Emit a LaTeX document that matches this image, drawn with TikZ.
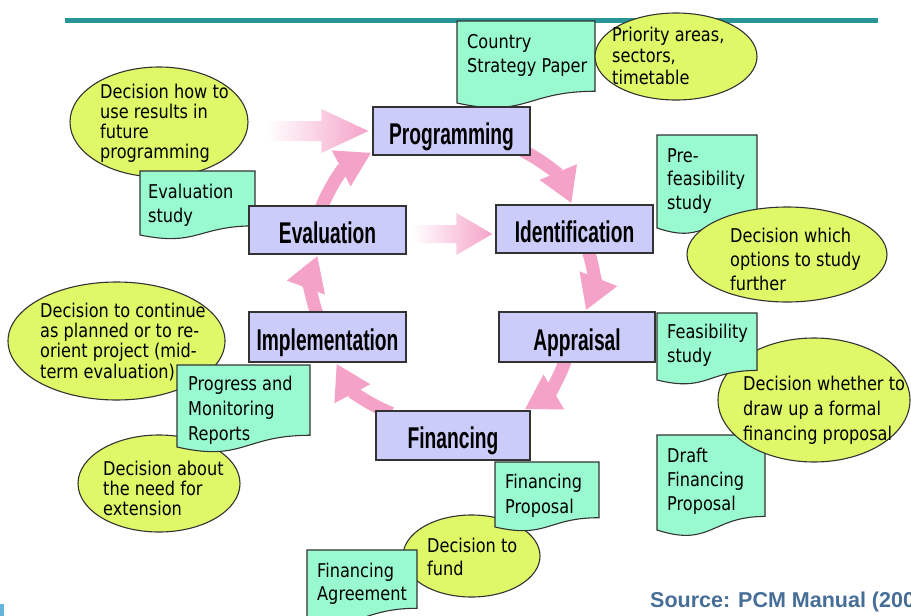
\documentclass[tikz,border=0pt]{standalone}
\usepackage{fontspec}
\usetikzlibrary{arrows.meta,shapes.geometric,calc,backgrounds}

\newfontfamily\smallfont{DejaVu Sans}[FakeStretch=0.85]
\newfontfamily\labelfont{Liberation Sans}[FakeStretch=0.64]
\newfontfamily\srcfont{Liberation Sans}

\definecolor{stagefill}{RGB}{204,204,250}
\definecolor{docfill}{RGB}{153,250,208}
\definecolor{ellfill}{RGB}{222,248,104}
\definecolor{cycpink}{RGB}{245,162,200}
\definecolor{rulecol}{RGB}{40,150,150}
\definecolor{srcblue}{RGB}{70,110,150}
\definecolor{cornerblue}{RGB}{100,180,220}

% multi-line left-aligned text whose baseline is the first line
\newcommand\ml[1]{\begin{tabular}[t]{@{}l@{}}#1\end{tabular}}

% document shape: top-left (x1,y1), right edge x2, lower-left corner at yL
\newcommand\docshape[4]{%
  \filldraw[docshp] (#1,#2) -- (#3,#2) -- (#3,{#2+0.857*(#4-#2)})
    .. controls ({0.5*(#1+#3)},{#2+0.857*(#4-#2)}) and ({0.5*(#1+#3)},{#2+1.185*(#4-#2)}) .. (#1,#4) -- cycle;}

\tikzset{
  stage/.style={rectangle, draw=black!80, line width=1.3pt, fill=stagefill,
    inner sep=0pt, minimum width=157pt, minimum height=48pt,
    text height=28pt, text depth=2pt,
    font=\labelfont\bfseries\fontsize{30}{32}\selectfont},
  docshp/.style={draw=black!80, line width=1.1pt, fill=docfill},
  ell/.style={ellipse, draw=black!80, line width=1.1pt, fill=ellfill, inner sep=0pt},
  txt/.style={anchor=base west, inner sep=0pt, font=\smallfont\fontsize{19}{#1}\selectfont},
  txt/.default=24,
  cycarrow/.style={draw=cycpink, line width=13pt, -{Triangle[width=38pt,length=34pt]}},
}

\begin{document}
\begin{tikzpicture}[x=1pt,y=-1pt]
\useasboundingbox (0,0) rectangle (911,616);
\begin{scope}
\clip (0,0) rectangle (911,616);

% header rule and corner mark
\draw[rulecol, line width=4.5pt] (65,20.5) -- (878,20.5);
\fill[cornerblue] (0,604) rectangle (4,616);

% programming
\docshape{457}{21}{595}{103}
\node[txt] (csp) at (467,48) {\ml{Country\\Strategy Paper}};
\node[ell, minimum width=162pt, minimum height=87pt] (pri) at (676,56.5) {};
\node[txt=21.5] (prit) at (612,41) {\ml{Priority areas,\\sectors,\\timetable}};

% evaluation
\node[ell, minimum width=178pt, minimum height=110pt] (dhow) at (159,122) {};
\node[txt=19.5] (dhowt) at (100,98) {\ml{Decision how to\\use results in\\future\\programming}};
\docshape{140}{171}{255}{235}
\node[txt=24.5] (evs) at (148,198) {\ml{Evaluation\\study}};

% identification
\docshape{657}{135}{757}{228}
\node[txt=23.5] (pfs) at (667,162) {\ml{Pre-\\feasibility\\study}};
\node[ell, minimum width=200pt, minimum height=95pt] (dwhich) at (787,254.5) {};
\node[txt] (dwhicht) at (730,242) {\ml{Decision which\\options to study\\further}};

% implementation
\node[ell, minimum width=217pt, minimum height=118pt] (dcont) at (116.5,341) {};
\node[txt=20] (dcontt) at (40,317) {\ml{Decision to continue\\as planned or to re-\\orient project (mid-\\term evaluation)}};
\node[ell, minimum width=162pt, minimum height=97pt] (dabout) at (159,483.5) {};
\node[txt=20] (dabt) at (103,475) {\ml{Decision about\\the need for\\extension}};
\docshape{177}{365}{310}{447}
\node[txt=25] (pmr) at (188,390) {\ml{Progress and\\Monitoring\\Reports}};

% appraisal
\docshape{657}{435}{765}{530}
\node[txt] (dfp) at (667,462) {\ml{Draft\\Financing\\Proposal}};
\node[ell, minimum width=192pt, minimum height=124pt] (dwhe) at (814,400) {};
\docshape{657}{313}{757}{380}
\node[txt] (fs) at (667,338) {\ml{Feasibility\\study}};
\node[txt=25] (dwhet) at (743,390) {\ml{Decision whether to\\draw up a formal\\financing proposal}};

% financing
\node[ell, minimum width=137pt, minimum height=82pt] (dfund) at (471.5,556) {};
\node[txt=23] (dfundt) at (427,552) {\ml{Decision to\\fund}};
\docshape{495}{462}{599}{527}
\node[txt=25] (fp) at (505,488) {\ml{Financing\\Proposal}};
\docshape{307}{550}{417}{618}
\node[txt=23] (fa) at (317,577) {\ml{Financing\\Agreement}};

% project cycle stages
\node[stage] (prog) at (451.5,131) {Programming};
\node[stage] (ident) at (574.5,229) {Identification};
\node[stage] (eval) at (327.5,230) {Evaluation};
\node[stage, minimum height=50pt] (impl) at (327.5,337) {Implementation};
\node[stage, minimum width=156pt, minimum height=50pt] (appr) at (577,337) {Appraisal};
\node[stage, minimum width=154pt, minimum height=49pt] (fin) at (453,435.5) {Financing};

\node[anchor=base west, inner sep=0pt, text=srcblue,
  font=\srcfont\bfseries\fontsize{21.5}{24}\selectfont] (src) at (650,607) {Source: PCM Manual (2003)};
\end{scope}

\begin{pgfonlayer}{background}
% cycle arrows
\draw[cycarrow] ([xshift=-8pt,yshift=5pt]prog.south east) to[bend left=20] ([xshift=-3pt,yshift=1pt]ident.north);
\draw[cycarrow] ([xshift=13pt,yshift=5pt]ident.south) to[bend left=20] ([xshift=9pt,yshift=1pt]appr.north);
\draw[cycarrow] ([xshift=-11pt,yshift=4pt]appr.south) to[bend left=20] ([xshift=-6pt,yshift=1pt]fin.north east);
\draw[cycarrow] ([xshift=16pt,yshift=-3pt]fin.north west) to[bend left=20] ([xshift=9pt,yshift=-1pt]impl.south);
\draw[cycarrow] ([xshift=-10pt,yshift=-4pt]impl.north) to[bend left=20] ([xshift=-10pt,yshift=-1pt]eval.south);
\draw[cycarrow] ([xshift=-6pt,yshift=-2pt]eval.north) to[bend left=20] ([xshift=-1pt,yshift=3pt]prog.south west);

% feedback arrows fading in from the left
\coordinate (ta) at ($(prog.west)+(-4,0)$);
\shade[left color=white, middle color=cycpink!75, right color=cycpink]
  ($(ta)+(-101,-10)$) -- ($(ta)+(-47,-10)$) -- ($(ta)+(-47,-22)$) -- (ta)
  -- ($(ta)+(-47,22)$) -- ($(ta)+(-47,10)$) -- ($(ta)+(-101,10)$) -- cycle;
\coordinate (tb) at ($(ident.west)+(-3,5)$);
\shade[left color=white, middle color=cycpink!75, right color=cycpink]
  ($(tb)+(-80,-9)$) -- ($(tb)+(-36,-9)$) -- ($(tb)+(-36,-21)$) -- (tb)
  -- ($(tb)+(-36,21)$) -- ($(tb)+(-36,9)$) -- ($(tb)+(-80,9)$) -- cycle;
\end{pgfonlayer}
\end{tikzpicture}
\end{document}
